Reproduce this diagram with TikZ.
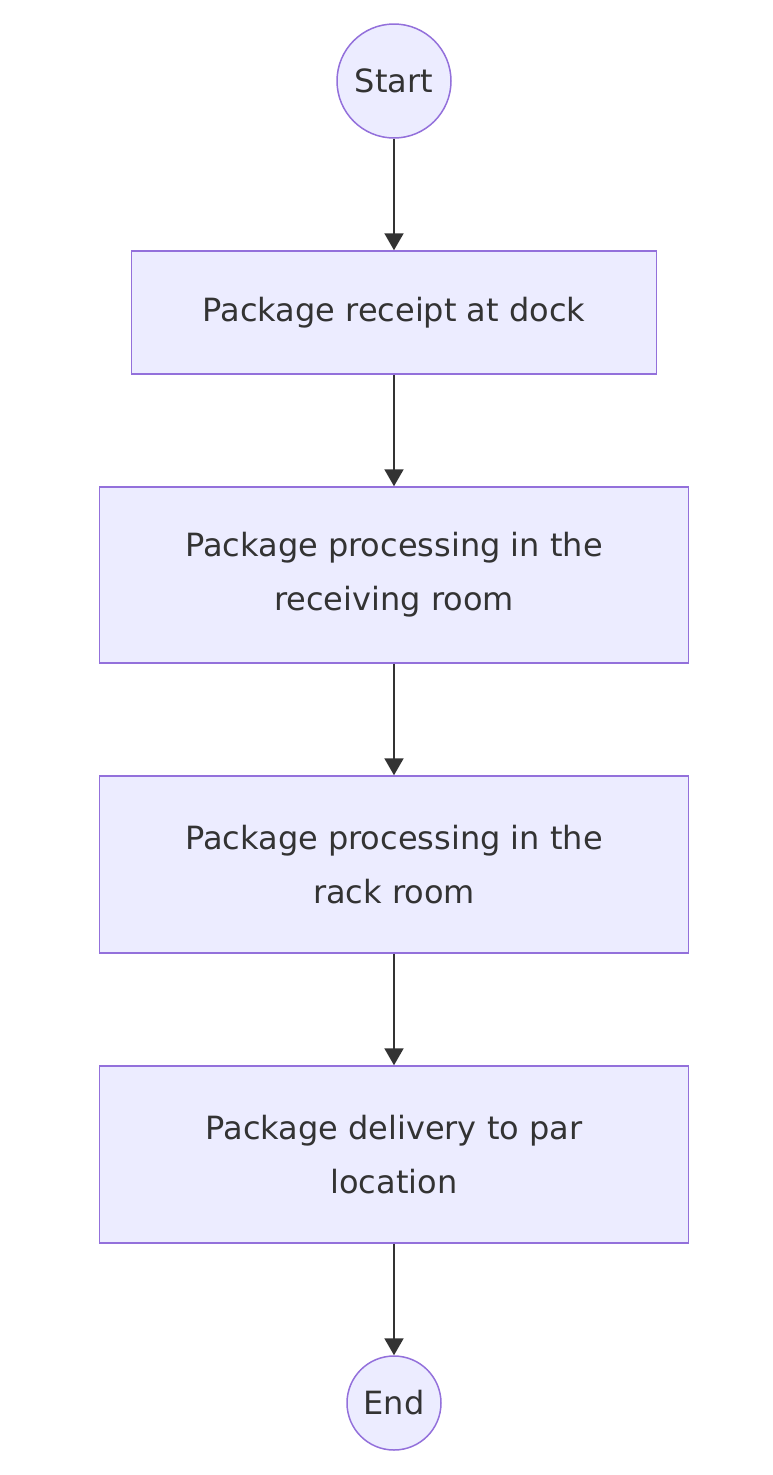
\documentclass[tikz,border=0pt]{standalone}
\usepackage{fontspec}
\setmainfont{DejaVu Sans}
\usetikzlibrary{arrows.meta}
\definecolor{nodefill}{HTML}{ECECFF}
\definecolor{nodeline}{HTML}{9370DB}
\definecolor{ink}{HTML}{333333}
\begin{document}
\begin{tikzpicture}[x=1pt,y=-1pt,
  box/.style={draw=nodeline,fill=nodefill,line width=1.5pt,text=ink,font=\fontsize{32}{54}\selectfont,align=center,inner sep=0pt},
  term/.style={circle,draw=nodeline,fill=nodefill,line width=1.5pt,text=ink,font=\fontsize{32}{38}\selectfont,inner sep=0pt},
  flow/.style={draw=ink,line width=2pt,-{Triangle[length=17pt,width=19pt]}}]
\useasboundingbox (0,0) rectangle (773,1475);
\node[term,minimum size=114pt] (start) at (394,81) {Start};
\node[box,minimum width=525pt,minimum height=123pt] (b1) at (394,312.5) {Package receipt at dock};
\node[box,minimum width=589pt,minimum height=176pt] (b2) at (394,575) {Package processing in the\\receiving room};
\node[box,minimum width=589pt,minimum height=177pt] (b3) at (394,864.5) {Package processing in the\\rack room};
\node[box,minimum width=589pt,minimum height=177pt] (b4) at (394,1154.5) {Package delivery to par\\location};
\node[term,minimum size=94pt] (end) at (394,1403) {End};
\draw[flow] (start.south) -- (b1.north);
\draw[flow] (b1.south) -- (b2.north);
\draw[flow] (b2.south) -- (b3.north);
\draw[flow] (b3.south) -- (b4.north);
\draw[flow] (b4.south) -- (end.north);
\end{tikzpicture}
\end{document}
